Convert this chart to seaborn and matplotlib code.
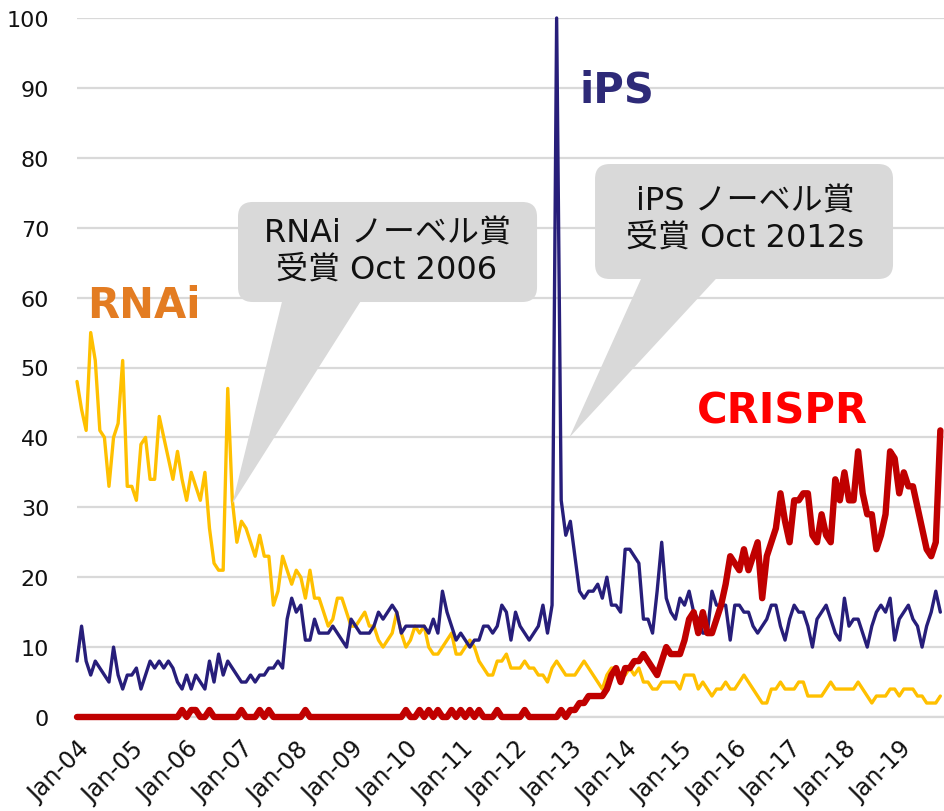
import pandas as pd
import matplotlib
matplotlib.use('Agg')
import matplotlib.pyplot as plt
import seaborn as sns
from matplotlib.patches import FancyBboxPatch, Polygon

# monthly search interest, Jan 2004 .. Oct 2019 (index 0 = Jan-04)
months = list(range(190))

rnai = [48, 44, 41, 55, 51, 41, 40, 33, 40, 42,
        51, 33, 33, 31, 39, 40, 34, 34, 43, 40,
        37, 34, 38, 34, 31, 35, 33, 31, 35, 27,
        22, 21, 21, 47, 31, 25, 28, 27, 25, 23,
        26, 23, 23, 16, 18, 23, 21, 19, 21, 20,
        17, 21, 17, 17, 15, 13, 14, 17, 17, 15,
        13, 13, 14, 15, 13, 13, 11, 10, 11, 12,
        15, 12, 10, 11, 13, 12, 13, 10, 9, 9,
        10, 11, 12, 9, 9, 10, 11, 10, 8, 7,
        6, 6, 8, 8, 9, 7, 7, 7, 8, 7,
        7, 6, 6, 5, 7, 8, 7, 6, 6, 6,
        7, 8, 7, 6, 5, 4, 6, 7, 7, 6,
        6, 7, 6, 7, 5, 5, 4, 4, 5, 5,
        5, 5, 4, 6, 6, 6, 4, 5, 4, 3,
        4, 4, 5, 4, 4, 5, 6, 5, 4, 3,
        2, 2, 4, 4, 5, 4, 4, 4, 5, 5,
        3, 3, 3, 3, 4, 5, 4, 4, 4, 4,
        4, 5, 4, 3, 2, 3, 3, 3, 4, 4,
        3, 4, 4, 4, 3, 3, 2, 2, 2, 3]

ips = [8, 13, 8, 6, 8, 7, 6, 5, 10, 6,
       4, 6, 6, 7, 4, 6, 8, 7, 8, 7,
       8, 7, 5, 4, 6, 4, 6, 5, 4, 8,
       5, 9, 6, 8, 7, 6, 5, 5, 6, 5,
       6, 6, 7, 7, 8, 7, 14, 17, 15, 16,
       11, 11, 14, 12, 12, 12, 13, 12, 11, 10,
       14, 13, 12, 12, 12, 13, 15, 14, 15, 16,
       15, 12, 13, 13, 13, 13, 13, 12, 14, 12,
       18, 15, 13, 11, 12, 11, 10, 11, 11, 13,
       13, 12, 13, 16, 15, 11, 15, 13, 12, 11,
       12, 13, 16, 12, 16, 100, 31, 26, 28, 23,
       18, 17, 18, 18, 19, 17, 20, 16, 16, 15,
       24, 24, 23, 22, 14, 14, 12, 18, 25, 17,
       15, 14, 17, 16, 18, 15, 14, 12, 12, 18,
       16, 16, 16, 11, 16, 16, 15, 15, 13, 12,
       13, 14, 16, 16, 13, 11, 14, 16, 15, 15,
       13, 10, 14, 15, 16, 14, 12, 11, 17, 13,
       14, 14, 12, 10, 13, 15, 16, 15, 17, 11,
       14, 15, 16, 14, 13, 10, 13, 15, 18, 15]

crispr = [0, 0, 0, 0, 0, 0, 0, 0, 0, 0,
          0, 0, 0, 0, 0, 0, 0, 0, 0, 0,
          0, 0, 0, 1, 0, 1, 1, 0, 0, 1,
          0, 0, 0, 0, 0, 0, 1, 0, 0, 0,
          1, 0, 1, 0, 0, 0, 0, 0, 0, 0,
          1, 0, 0, 0, 0, 0, 0, 0, 0, 0,
          0, 0, 0, 0, 0, 0, 0, 0, 0, 0,
          0, 0, 1, 0, 0, 1, 0, 1, 0, 1,
          0, 0, 1, 0, 1, 0, 1, 0, 1, 0,
          0, 0, 1, 0, 0, 0, 0, 0, 1, 0,
          0, 0, 0, 0, 0, 0, 1, 0, 1, 1,
          2, 2, 3, 3, 3, 3, 4, 6, 7, 5,
          7, 7, 8, 8, 9, 8, 7, 6, 8, 10,
          9, 9, 9, 11, 14, 15, 12, 15, 12, 12,
          14, 16, 19, 23, 22, 21, 24, 21, 23, 25,
          17, 23, 25, 27, 32, 28, 25, 31, 31, 32,
          32, 26, 25, 29, 26, 25, 34, 31, 35, 31,
          31, 38, 32, 29, 29, 24, 26, 29, 38, 37,
          32, 35, 33, 33, 30, 27, 24, 23, 25, 41]

tick_pos = [0, 12, 24, 36, 48, 60, 72, 84, 96, 108, 120, 132, 144, 156, 168, 180]
tick_labels = ['Jan-04', 'Jan-05', 'Jan-06', 'Jan-07', 'Jan-08', 'Jan-09', 'Jan-10', 'Jan-11',
               'Jan-12', 'Jan-13', 'Jan-14', 'Jan-15', 'Jan-16', 'Jan-17', 'Jan-18', 'Jan-19']

df = pd.DataFrame({'month': months, 'RNAi': rnai, 'iPS': ips, 'CRISPR': crispr})

sns.set_style('white')
plt.rcParams['font.family'] = ['DejaVu Sans', 'Noto Sans CJK JP']

fig = plt.figure(figsize=(9.44, 8.12), dpi=100)
ax = fig.add_axes([77 / 944, 94 / 812, 867 / 944, 699 / 812])

line_kw = dict(ax=ax, clip_on=False, solid_joinstyle='round', solid_capstyle='round')
sns.lineplot(data=df, x='month', y='RNAi', color='#FFC000', linewidth=2.4, zorder=3, **line_kw)
sns.lineplot(data=df, x='month', y='iPS', color='#271E7A', linewidth=2.4, zorder=4, **line_kw)
sns.lineplot(data=df, x='month', y='CRISPR', color='#C00000', linewidth=4.6, zorder=5, **line_kw)

ax.set_xlim(0, 189.8)
ax.set_ylim(0, 100)
ax.set_yticks(range(0, 101, 10))
ax.yaxis.grid(True, color='#D9D9D9', linewidth=1.6)
ax.xaxis.grid(False)
ax.set_axisbelow(True)
for name, sp in ax.spines.items():
    sp.set_visible(name == 'bottom')
ax.spines['bottom'].set_color('#D9D9D9')
ax.spines['bottom'].set_linewidth(1.6)

ax.set_xticks(tick_pos)
ax.set_xticklabels(tick_labels, rotation=45, ha='right', rotation_mode='anchor')
ax.tick_params(axis='x', length=6, width=1.6, color='#D9D9D9', pad=8, labelsize=17, labelcolor='#111111')
ax.tick_params(axis='y', length=0, pad=20, labelsize=16, labelcolor='#111111')
ax.set_xlabel('')
ax.set_ylabel('')

# series names
ax.text(14.7, 59, 'RNAi', color='#E37C22', fontsize=30, fontweight='bold', ha='center', va='center')
ax.text(118.2, 89.8, 'iPS', color='#2E2A78', fontsize=30, fontweight='bold', ha='center', va='center')
ax.text(154.4, 43.8, 'CRISPR', color='#FF0000', fontsize=30, fontweight='bold', ha='center', va='center')


def bubble(box, base, tip, text, center):
    # speech bubble in axes coords, tip given in data coords
    x0, y0, x1, y1 = box
    ax.add_patch(FancyBboxPatch((x0, y0), x1 - x0, y1 - y0,
                                boxstyle='round,pad=0,rounding_size=0.017',
                                mutation_aspect=867 / 699, transform=ax.transAxes,
                                fc='#D9D9D9', ec='none', zorder=6, clip_on=False))
    tx, ty = ax.transAxes.inverted().transform(ax.transData.transform(tip))
    ax.add_patch(Polygon([base[0], base[1], (tx, ty)], closed=True, transform=ax.transAxes,
                         fc='#D9D9D9', ec='none', zorder=6, clip_on=False))
    ax.text(center[0], center[1], text, transform=ax.transAxes, ha='center', va='center',
            fontsize=23, linespacing=1.2, color='#111111', zorder=7)


bubble((0.1857, 0.5937, 0.5306, 0.7368), [(0.2376, 0.60), (0.3299, 0.60)], (34, 30.5),
       'RNAi ノーベル賞\n受賞 Oct 2006', (0.3576, 0.6667))
bubble((0.5975, 0.6266, 0.9412, 0.7911), [(0.6528, 0.633), (0.7416, 0.633)], (107.8, 40),
       'iPS ノーベル賞\n受賞 Oct 2012s', (0.7705, 0.7125))

fig.savefig('out.png', dpi=100)
